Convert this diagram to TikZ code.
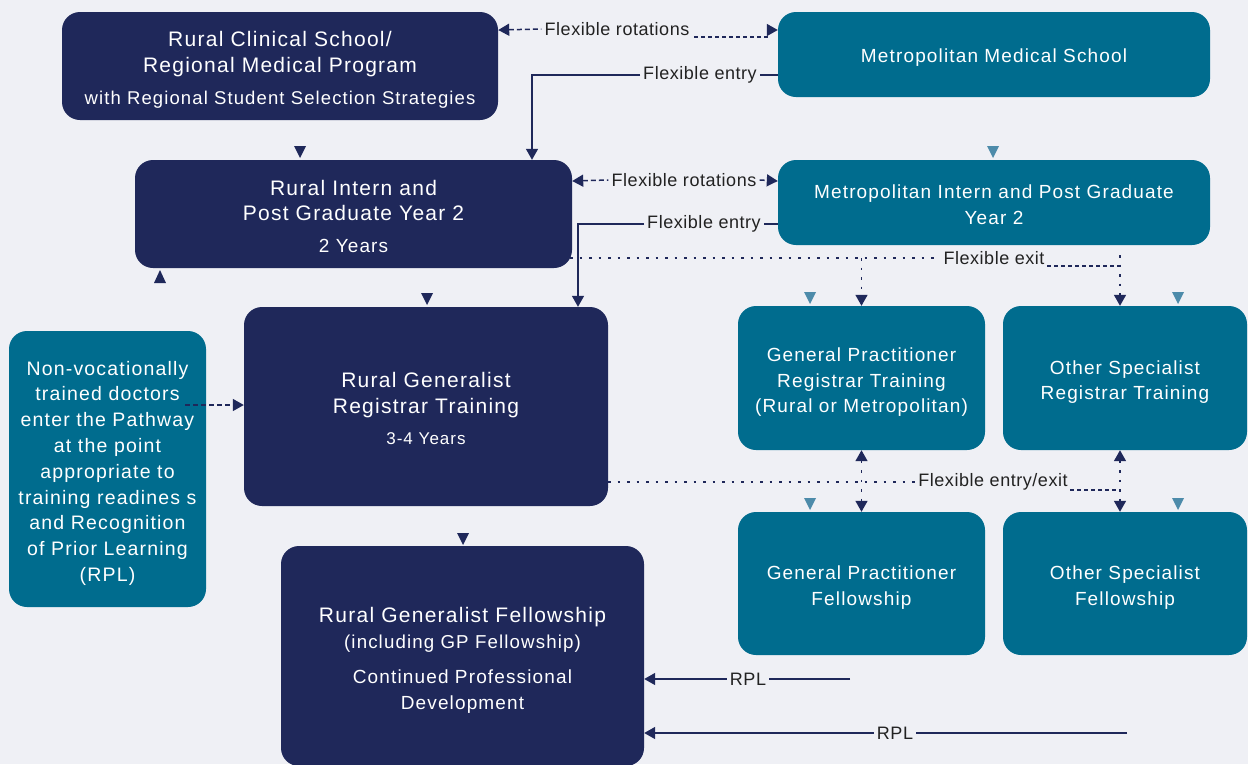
\documentclass[tikz,border=0pt]{standalone}
\usepackage{fontspec}
\setmainfont{Liberation Sans}
\newfontfamily\boxfnt{Liberation Sans}[LetterSpace=6]
\newfontfamily\labfnt{Liberation Sans}[LetterSpace=3]
\usetikzlibrary{arrows.meta,calc}
\definecolor{navyc}{HTML}{1F285A}
\definecolor{tealc}{HTML}{006C8E}
\definecolor{lighttri}{HTML}{4D8BAA}
\definecolor{bgc}{HTML}{EFF0F5}
\definecolor{labtext}{HTML}{222222}
\newcommand\fs[2]{\fontsize{#1}{#2}\selectfont}
\newcommand\dn[1]{\rule{0pt}{\dimexpr0.75em+#1pt*2\relax}}
\newcommand\dtri[3]{\fill[#3] ({#1-6},{#2-12}) -- ({#1+6},{#2-12}) -- (#1,#2) -- cycle;}
\begin{document}
\begin{tikzpicture}[x=1pt,y=-1pt,
  box/.style={rounded corners=18pt, inner sep=0pt, align=center, text=white,
    font=\fontsize{19}{25.5}\selectfont\boxfnt},
  big/.style={font=\fontsize{21}{25.5}\selectfont\boxfnt},
  navybox/.style={box, fill=navyc},
  tealbox/.style={box, fill=tealc},
  lab/.style={font=\fontsize{18}{20}\selectfont\labfnt, text=labtext, inner sep=3pt},
  conn/.style={draw=navyc, line width=1.5pt},
  dashline/.style={conn, dash pattern=on 5pt off 3pt},
  dotline/.style={conn, dash pattern=on 2.5pt off 7pt},
  tip/.style={-{Triangle[width=12pt,length=11pt]}},
  rtip/.style={{Triangle[width=12pt,length=11pt]}-},
  btip/.style={{Triangle[width=12pt,length=11pt]}-{Triangle[width=12pt,length=11pt]}}
]
\fill[bgc] (0,0) rectangle (1248,764);
\useasboundingbox (0,0) rectangle (1248,764);

% boxes
\node[navybox, big, minimum width=436pt, minimum height=108pt] (b1) at (280,66)
  {\dn{4}Rural Clinical School/\\Regional Medical Program\\[7pt]\fs{18.5}{21}with Regional Student Selection Strategies};
\node[tealbox, minimum width=432pt, minimum height=85pt] (b2) at (994,54.5)
  {\dn{3}Metropolitan Medical School};
\node[navybox, big, minimum width=437pt, minimum height=108pt] (b3) at (353.5,214)
  {\dn{2}Rural Intern and\\Post Graduate Year 2\\[6pt]\fs{19}{21}2 Years};
\node[tealbox, minimum width=432pt, minimum height=85pt] (b4) at (994,202.5)
  {\dn{2}Metropolitan Intern and Post Graduate\\Year 2};
\node[navybox, big, minimum width=364pt, minimum height=199pt] (b5) at (426,406.5)
  {\dn{2}Rural Generalist\\Registrar Training\\[6pt]\fs{17}{21}3-4 Years};
\node[tealbox, minimum width=197pt, minimum height=276pt, font=\fontsize{19.5}{25.8}\selectfont\boxfnt] (b6) at (107.5,469)
  {\dn{4}Non-vocationally\\trained doctors\\enter the Pathway\\at the point\\appropriate to\\training readines s\\and Recognition\\of Prior Learning\\(RPL)};
\node[tealbox, minimum width=247pt, minimum height=144pt] (b7) at (861.5,378)
  {\dn{4}General Practitioner\\Registrar Training\\(Rural or Metropolitan)};
\node[tealbox, minimum width=244pt, minimum height=144pt] (b8) at (1125,378)
  {\dn{4}Other Specialist\\Registrar Training};
\node[tealbox, minimum width=247pt, minimum height=143pt] (b9) at (861.5,583.5)
  {\dn{4}General Practitioner\\Fellowship};
\node[tealbox, minimum width=244pt, minimum height=143pt] (b10) at (1125,583.5)
  {\dn{4}Other Specialist\\Fellowship};
\node[navybox, minimum width=363pt, minimum height=220pt] (b11) at (462.5,656)
  {\fs{21}{25.5}\dn{4}Rural Generalist Fellowship\\
   \fs{18.7}{25.5}(including GP Fellowship)\\[10pt]
   \fs{19}{24.5}Continued Professional\\Development};

% small triangles
\dtri{300}{158}{navyc}
\dtri{427}{305}{navyc}
\dtri{463}{545}{navyc}
\fill[navyc] (154,283) -- (166,283) -- (160,270) -- cycle;
\dtri{993}{158}{lighttri}
\dtri{810}{304}{lighttri}
\dtri{1178}{304}{lighttri}
\dtri{810}{510}{lighttri}
\dtri{1178}{510}{lighttri}

% labels
\node[lab] (lrot1) at (617,29) {Flexible rotations};
\node[lab] (lent1) at (700,75) {Flexible entry};
\node[lab] (lrot2) at (684,180) {Flexible rotations};
\node[lab] (lent2) at (704,224) {Flexible entry};
\node[lab] (lexit) at (994,258) {Flexible exit};
\node[lab] (lee) at (993,482) {Flexible entry/exit};
\node[lab] (lrpl1) at (748,679) {RPL};
\node[lab] (lrpl2) at (895,733) {RPL};

% coordinates for bends and free ends
\coordinate (k1) at (532,75);
\coordinate (k2) at (578,224);
\coordinate (e1) at (861.5,258);
\coordinate (e2) at (1120,255);
\coordinate (e3) at (1047,266);
\coordinate (e4) at (1120,266);
\coordinate (f1) at (1070,490);
\coordinate (f2) at (1120,490);
\coordinate (d1) at (694,37);
\coordinate (d2) at (770,37);
\coordinate (nv) at (185,405);
\coordinate (r1) at (850,679);
\coordinate (r2) at (1127,733);

% flexible rotations (top)
\draw[dashline, rtip] ($(b1.east)+(0,-36)$) -- (lrot1.west);
\draw[conn, dash pattern=on 4pt off 3pt] (d1) -- (d2);
\draw[conn, tip] ($(b2.west)+(-8,-24.5)$) -- ($(b2.west)+(0,-24.5)$);
% flexible entry (top)
\draw[conn] ($(b2.west)+(0,20.5)$) -- (lent1.east);
\draw[conn, tip] (lent1.west) -- (k1) -- (k1 |- b3.north);
% flexible rotations (second)
\draw[dashline, rtip] ($(b3.east)+(0,-33)$) -- (lrot2.west);
\draw[dashline, tip] (lrot2.east) -- ($(b4.west)+(0,-21.5)$);
% flexible entry (second)
\draw[conn] ($(b4.west)+(0,21.5)$) -- (lent2.east);
\draw[conn, tip] (lent2.west) -- (k2) -- (k2 |- b5.north);
% flexible exit
\draw[dotline] ($(b3.east)+(-2,44)$) -- (lexit.west);
\draw[dotline, tip] (e1) -- (b7.north);
\draw[conn, dash pattern=on 4pt off 3pt] (e3) -- (e4);
\draw[dotline, tip] (e2) -- ($(b8.north)+(-5,0)$);
% flexible entry/exit
\draw[dotline] ($(b5.east)+(0,75.5)$) -- (lee.west);
\draw[dotline, btip] (b7.south) -- (b9.north);
\draw[dotline, btip] ($(b8.south)+(-5,0)$) -- ($(b10.north)+(-5,0)$);
\draw[conn, dash pattern=on 4pt off 3pt] (f1) -- (f2);
% non-vocational
\draw[dashline, tip] (nv) -- (nv -| b5.west);
% RPL
\draw[conn] (r1) -- (lrpl1.east);
\draw[conn, tip] (lrpl1.west) -- (lrpl1.west -| b11.east);
\draw[conn] (r2) -- (lrpl2.east);
\draw[conn, tip] (lrpl2.west) -- (lrpl2.west -| b11.east);
\end{tikzpicture}
\end{document}
